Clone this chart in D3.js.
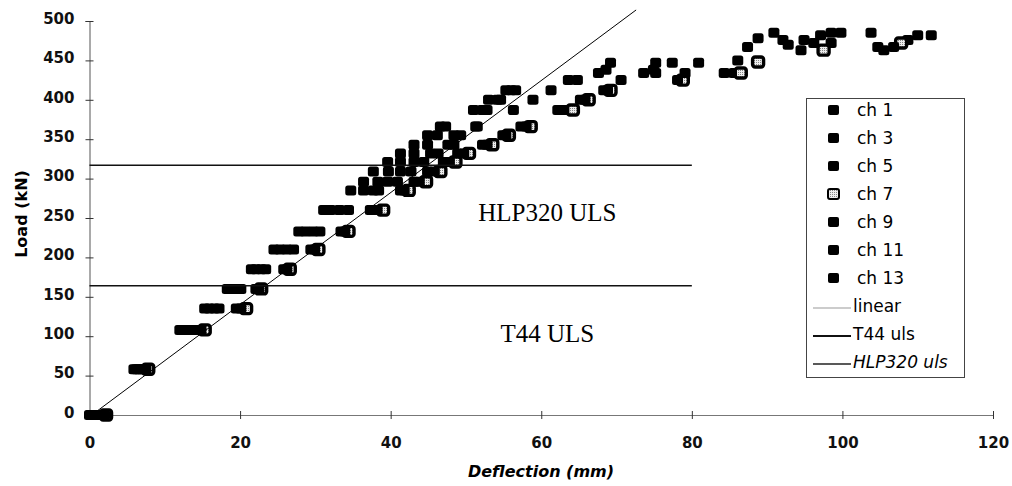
<!DOCTYPE html>
<html>
<head>
<meta charset="utf-8">
<script src="https://cdn.jsdelivr.net/npm/d3@7"></script>
<style>
  body { margin: 0; background: #fff; }
  svg { display: block; }
  .tick text { font-family: "DejaVu Sans", sans-serif; font-weight: bold; font-size: 15px; fill: #111; }
</style>
</head>
<body>
<svg id="chart" width="1012" height="486"></svg>
<script>
// load steps shared by all gauges up to about 412 kN
var loadSteps = [0, 58, 108, 135, 160, 185, 210, 233, 260, 285, 296, 309, 321, 332, 343, 355, 366, 387, 400, 412];

var ch1Defl  = [0.0, 5.9, 12.0, 15.3, 18.3, 21.5, 24.5, 27.8, 31.1, 34.7, 36.4, 37.7, 39.6, 41.3, 43.1, 44.9, 46.6, 51.0, 53.0, 55.3];
var ch3Defl  = [0.8, 6.5, 13.0, 16.6, 19.5, 22.8, 26.2, 29.7, 33.2, 37.7, 39.6, 41.3, 43.1, 45.3, 47.6, 48.4, 51.3, 52.8, 54.6, 56.0];
var ch5Defl  = [1.6, 7.2, 14.2, 19.5, 22.1, 25.8, 29.4, 33.4, 37.3, 41.3, 43.1, 44.9, 47.0, 48.9, 52.2, 54.9, 57.3, 62.2, 65.2, 68.3];
var ch7Defl  = [2.2, 7.8, 15.3, 20.8, 22.8, 26.6, 30.4, 34.4, 39.0, 42.4, 44.7, 46.6, 48.6, 50.4, 53.5, 55.7, 58.6, 64.2, 66.3, 69.2];
var ch9Defl  = [2.0, 7.5, 14.8, 20.1, 22.5, 26.2, 29.9, 33.9, 38.2, 41.8, 43.8, 45.8, 47.8, 49.7, 52.8, 55.3, 58.0, 63.0, 65.8, 68.8];
var ch11Defl = [1.2, 6.9, 13.6, 17.2, 20.1, 23.4, 27.1, 30.6, 34.4, 38.4, 40.9, 42.7, 44.4, 46.3, 48.4, 49.3, 51.5, 56.3, 58.9, 61.3];
var ch13Defl = [0.4, 6.2, 12.5, 15.9, 18.9, 22.1, 25.3, 28.7, 32.0, 36.4, 38.3, 39.7, 41.3, 43.1, 44.9, 46.2, 47.3, 52.2, 54.2, 56.6];

// readings after 412 kN, [deflection, load]
var ch1Tail  = [[63.6, 425], [73.6, 434], [80.9, 447], [90.9, 485], [98.5, 472], [105.5, 463]];
var ch3Tail  = [[67.6, 434], [75.2, 447], [85.6, 434], [92.8, 470], [97.1, 482], [108.7, 476]];
var ch5Tail  = [[68.6, 438], [77.4, 447], [87.4, 467], [94.9, 476], [103.8, 485], [111.8, 482]];
var ch7Tail  = [[78.8, 425], [86.5, 434], [88.8, 448], [97.5, 463], [107.8, 472]];
var ch9Tail  = [[70.6, 425], [78.1, 425], [79.1, 434], [88.8, 478], [96.2, 472], [104.7, 467]];
var ch11Tail = [[69.2, 447], [75.2, 434], [86.1, 450], [94.5, 463], [98.5, 485], [110.0, 482]];
var ch13Tail = [[64.8, 425], [74.9, 438], [84.3, 434], [92.1, 476], [99.8, 485], [106.8, 467]];

var linearLine = [[0.3, 0], [72.6, 514]];
var t44Line = [[0, 164], [80, 164]];
var hlpLine = [[0, 317], [80, 317]];

var xTicks = [0, 20, 40, 60, 80, 100, 120];
var yTicks = [0, 50, 100, 150, 200, 250, 300, 350, 400, 450, 500];

var series = [
    {name: "ch 1",  defl: ch1Defl,  tail: ch1Tail},
    {name: "ch 3",  defl: ch3Defl,  tail: ch3Tail},
    {name: "ch 5",  defl: ch5Defl,  tail: ch5Tail},
    {name: "ch 7",  defl: ch7Defl,  tail: ch7Tail, hatched: true},
    {name: "ch 9",  defl: ch9Defl,  tail: ch9Tail},
    {name: "ch 11", defl: ch11Defl, tail: ch11Tail},
    {name: "ch 13", defl: ch13Defl, tail: ch13Tail}
];

var svg = d3.select("#chart");

var xScale = d3.scaleLinear().domain([0, 120]).range([89.5, 993]);
var yScale = d3.scaleLinear().domain([0, 500]).range([415, 21]);

// axes with ticks crossing the line
var yAxis = svg.append("g")
    .attr("transform", "translate(89.5,0)")
    .call(d3.axisLeft(yScale).tickValues(yTicks).tickSizeOuter(0).tickSize(4).tickPadding(11));
yAxis.select(".domain").attr("stroke", "#555");
yAxis.selectAll(".tick line").attr("x1", -4).attr("x2", 4).attr("stroke", "#333");
yAxis.selectAll(".tick text").attr("dy", "0.15em");

var xAxis = svg.append("g")
    .attr("transform", "translate(0,415)")
    .call(d3.axisBottom(xScale).tickValues(xTicks).tickSizeOuter(0).tickSize(4).tickPadding(18));
xAxis.select(".domain").attr("stroke", "#777");
xAxis.selectAll(".tick line").attr("y1", -4).attr("y2", 4).attr("stroke", "#333");

// markers
var pattern = svg.append("defs").append("pattern")
    .attr("id", "hatch")
    .attr("width", 2).attr("height", 2)
    .attr("patternUnits", "userSpaceOnUse");
pattern.append("rect").attr("width", 2).attr("height", 2).attr("fill", "#eee");
pattern.append("rect").attr("width", 1).attr("height", 1).attr("fill", "#888");

series.forEach(function(s) {
    var pts = s.defl.map(function(d, i) { return [d, loadSteps[i]]; }).concat(s.tail);
    svg.append("g")
        .attr("class", "data")
        .selectAll("rect")
        .data(pts)
        .enter()
        .append("rect")
        .attr("x", function(d) { return xScale(d[0]) - 5.5; })
        .attr("y", function(d) { return yScale(d[1]) - 5; })
        .attr("width", 11)
        .attr("height", 10)
        .attr("rx", 2.5)
        .style("fill", s.hatched ? "url(#hatch)" : "#000")
        .style("stroke", "#000")
        .style("stroke-width", s.hatched ? 3.4 : 0);
});

// reference lines
var line = d3.line()
    .x(function(d) { return xScale(d[0]); })
    .y(function(d) { return yScale(d[1]); });

svg.append("path").datum(linearLine).attr("d", line)
    .style("fill", "none").style("stroke", "#000").style("stroke-width", 1);
svg.append("path").datum(t44Line).attr("d", line)
    .style("fill", "none").style("stroke", "#111").style("stroke-width", 1.5);
svg.append("path").datum(hlpLine).attr("d", line)
    .style("fill", "none").style("stroke", "#111").style("stroke-width", 1.5);

// in-plot labels
svg.append("text")
    .attr("x", xScale(60.8)).attr("y", 221)
    .attr("text-anchor", "middle")
    .style("font-family", "'Liberation Serif', 'Times New Roman', serif")
    .style("font-size", "25px")
    .text("HLP320 ULS");
svg.append("text")
    .attr("x", xScale(60.8)).attr("y", 342)
    .attr("text-anchor", "middle")
    .style("font-family", "'Liberation Serif', 'Times New Roman', serif")
    .style("font-size", "25px")
    .text("T44 ULS");

// axis titles
svg.append("text")
    .attr("transform", "translate(27,214) rotate(-90)")
    .attr("text-anchor", "middle")
    .style("font-family", "'DejaVu Sans', sans-serif")
    .style("font-weight", "bold")
    .style("font-size", "16px")
    .text("Load (kN)");
svg.append("text")
    .attr("x", 541).attr("y", 477)
    .attr("text-anchor", "middle")
    .style("font-family", "'DejaVu Sans', sans-serif")
    .style("font-weight", "bold")
    .style("font-style", "italic")
    .style("font-size", "16px")
    .text("Deflection (mm)");

// legend
var legend = svg.append("g").attr("class", "legend");
legend.append("rect")
    .attr("x", 806.5).attr("y", 98.5)
    .attr("width", 158).attr("height", 279)
    .style("fill", "#fff").style("stroke", "#444").style("stroke-width", 1);

var legendItems = series.map(function(s) { return {name: s.name, kind: "marker", hatched: s.hatched}; })
    .concat([
        {name: "linear", kind: "line", width: 1, color: "#999"},
        {name: "T44 uls", kind: "line", width: 2, color: "#111"},
        {name: "HLP320 uls", kind: "line", width: 1.5, color: "#222", italic: true}
    ]);

var rows = legend.selectAll("g.item")
    .data(legendItems)
    .enter()
    .append("g")
    .attr("class", "item")
    .attr("transform", function(d, i) { return "translate(0," + (110 + i * 28) + ")"; });

rows.filter(function(d) { return d.kind === "marker"; })
    .append("rect")
    .attr("x", 828).attr("y", -5)
    .attr("width", 11).attr("height", 10)
    .attr("rx", 2)
    .style("fill", function(d) { return d.hatched ? "url(#hatch)" : "#000"; })
    .style("stroke", "#000")
    .style("stroke-width", function(d) { return d.hatched ? 2 : 0; });

rows.filter(function(d) { return d.kind === "line"; })
    .append("line")
    .attr("x1", 813).attr("x2", 851)
    .attr("y1", 2).attr("y2", 2)
    .style("stroke", function(d) { return d.color; })
    .style("stroke-width", function(d) { return d.width; });

rows.append("text")
    .attr("x", function(d) { return d.kind === "marker" ? 857 : 853; })
    .attr("y", 6)
    .style("font-family", "'DejaVu Sans', sans-serif")
    .style("font-size", "17px")
    .style("font-style", function(d) { return d.italic ? "italic" : "normal"; })
    .text(function(d) { return d.name; });
</script>
</body>
</html>
